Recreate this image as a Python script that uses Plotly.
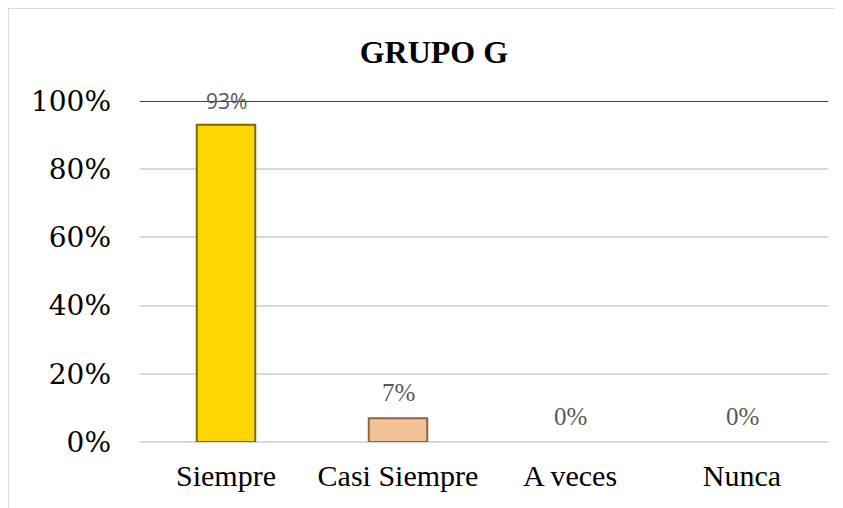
import plotly.graph_objects as go

categories = ["Siempre", "Casi Siempre", "A veces", "Nunca"]
values = [0.93, 0.07, 0.0, 0.0]
value_labels = ["93%", "7%", "0%", "0%"]
bar_colors = ["#FFD700", "#F2C297", "#F2C297", "#F2C297"]
line_colors = ["#7A6A00", "#8C6440", "#8C6440", "#8C6440"]
tick_vals = [0, 0.2, 0.4, 0.6, 0.8, 1.0]
tick_text = ["0%", "20%", "40%", "60%", "80%", "100%"]

SERIF = "Liberation Serif"
label_fonts = ["Open Sans", SERIF, SERIF, SERIF]
label_sizes = [21, 25, 25, 25]

fig = go.Figure()
fig.add_trace(go.Bar(
    x=categories, y=values,
    marker=dict(color=bar_colors,
                line=dict(color=line_colors, width=[2 if v > 0 else 0 for v in values])),
    hoverinfo="skip",
))

annotations = []
for cat, val, lab, fam, sz in zip(categories, values, value_labels, label_fonts, label_sizes):
    annotations.append(dict(x=cat, y=val, xref="x", yref="y", text=lab, showarrow=False,
                            yanchor="middle", yshift=26 if fam == SERIF else 24,
                            font=dict(family=fam, size=sz, color="#595959")))

fig.update_layout(
    width=835, height=500,
    margin=dict(l=132, r=15, t=93, b=66),
    paper_bgcolor="white", plot_bgcolor="white",
    font=dict(family=SERIF),
    showlegend=False,
    bargap=0.66,
    annotations=annotations,
    title=dict(text="<b>GRUPO G</b>", x=0.51, xanchor="center", xref="container",
               y=1 - 44 / 500, yanchor="middle", yref="container",
               font=dict(family=SERIF, size=32, color="black")),
    xaxis=dict(showgrid=False, showline=False, zeroline=False, ticks="",
               tickfont=dict(family=SERIF, size=30, color="black"),
               ticklabelstandoff=13),
    yaxis=dict(range=[0, 1], tickvals=tick_vals, ticktext=tick_text,
               showgrid=True, gridcolor="#D9D9D9", gridwidth=1.5,
               zeroline=True, zerolinecolor="#D9D9D9", zerolinewidth=1.5,
               showline=False, ticks="",
               tickfont=dict(family="DejaVu Serif", size=28, color="black"),
               ticklabelstandoff=28),
    shapes=[
        dict(type="line", xref="paper", yref="y", x0=0, x1=1, y0=1, y1=1,
             line=dict(color="#404040", width=2), layer="above"),
        dict(type="rect", xref="paper", yref="paper", x0=-0.192, x1=1.2, y0=-0.5, y1=1.273,
             line=dict(color="#D9D9D9", width=2), layer="below"),
    ],
)

fig.write_html("out.html")
